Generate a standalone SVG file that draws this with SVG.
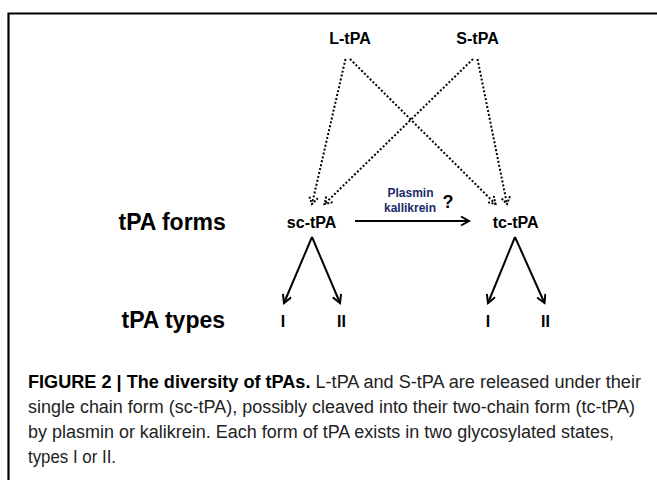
<svg xmlns="http://www.w3.org/2000/svg" width="657" height="480" viewBox="0 0 657 480">
  <style>
    .lbl { font-family: "Liberation Sans", Arial, sans-serif; font-weight: bold; fill: #000; }
    .node { font-size: 16px; text-anchor: middle; }
    .row { font-size: 23px; }
    .enz { font-size: 12px; text-anchor: middle; fill: #1b2a6b; }
    .dot { stroke: #000; stroke-width: 2; stroke-dasharray: 2 2; fill: none; }
    .solid { stroke: #000; stroke-width: 2; fill: none; }
    .cap { font-family: "Liberation Sans", Arial, sans-serif; font-size: 18px; fill: #222; }
    .capb { font-weight: bold; fill: #000; }
  </style>
  <defs>
    <marker id="ah" markerUnits="userSpaceOnUse" markerWidth="12" markerHeight="12" refX="9" refY="5" orient="auto">
      <path d="M1,0.5 L9,5 L1,9.5" fill="none" stroke="#000" stroke-width="2"/>
    </marker>
    <marker id="ahd" markerUnits="userSpaceOnUse" markerWidth="12" markerHeight="12" refX="8" refY="5" orient="auto">
      <path d="M1,0.5 L8,5 L1,9.5" fill="none" stroke="#000" stroke-width="2" stroke-dasharray="2 1.5"/>
    </marker>
  </defs>
  <rect width="657" height="480" fill="#fff"/>
  <path d="M8.5,480 V13.5 H657" fill="none" stroke="#000" stroke-width="2.2"/>

  <g id="connectors">
    <line class="dot" x1="345.5" y1="59" x2="312" y2="204" marker-end="url(#ahd)"/>
    <line class="dot" x1="350" y1="59" x2="495.5" y2="204" marker-end="url(#ahd)"/>
    <line class="dot" x1="473" y1="59" x2="324.5" y2="204" marker-end="url(#ahd)"/>
    <line class="dot" x1="477.5" y1="59" x2="507" y2="204" marker-end="url(#ahd)"/>
    <line class="solid" x1="355" y1="221" x2="469" y2="221" marker-end="url(#ah)"/>
    <line class="solid" x1="312" y1="237" x2="284" y2="303" marker-end="url(#ah)"/>
    <line class="solid" x1="312" y1="237" x2="340" y2="303" marker-end="url(#ah)"/>
    <line class="solid" x1="515" y1="237" x2="488" y2="303" marker-end="url(#ah)"/>
    <line class="solid" x1="515" y1="237" x2="544.5" y2="303" marker-end="url(#ah)"/>
  </g>

  <g id="L-tPA"><text class="lbl node" x="350" y="44">L-tPA</text></g>
  <g id="S-tPA"><text class="lbl node" x="477.5" y="44">S-tPA</text></g>
  <g id="row-forms"><text class="lbl row" x="118.5" y="230">tPA forms</text></g>
  <g id="row-types"><text class="lbl row" x="121.5" y="328">tPA types</text></g>
  <g id="sc-tPA"><text class="lbl node" x="311.6" y="228">sc-tPA</text></g>
  <g id="tc-tPA"><text class="lbl node" x="515.7" y="228">tc-tPA</text></g>
  <g id="enzyme">
    <text class="lbl enz" x="410.5" y="197">Plasmin</text>
    <text class="lbl enz" x="410" y="212">kallikrein</text>
    <text class="lbl" x="448" y="208" font-size="18" text-anchor="middle">?</text>
  </g>
  <g id="sc-I"><text class="lbl node" x="283" y="327">I</text></g>
  <g id="sc-II"><text class="lbl node" x="341.4" y="327">II</text></g>
  <g id="tc-I"><text class="lbl node" x="488" y="327">I</text></g>
  <g id="tc-II"><text class="lbl node" x="545.5" y="327">II</text></g>

  <g id="caption">
    <text class="cap" x="28" y="388" textLength="613" lengthAdjust="spacingAndGlyphs"><tspan class="capb">FIGURE 2 | The diversity of tPAs.</tspan> L-tPA and S-tPA are released under their</text>
    <text class="cap" x="28" y="413" textLength="607" lengthAdjust="spacingAndGlyphs">single chain form (sc-tPA), possibly cleaved into their two-chain form (tc-tPA)</text>
    <text class="cap" x="28" y="438" textLength="586" lengthAdjust="spacingAndGlyphs">by plasmin or kalikrein. Each form of tPA exists in two glycosylated states,</text>
    <text class="cap" x="28" y="463" textLength="88" lengthAdjust="spacingAndGlyphs">types I or II.</text>
  </g>
</svg>
